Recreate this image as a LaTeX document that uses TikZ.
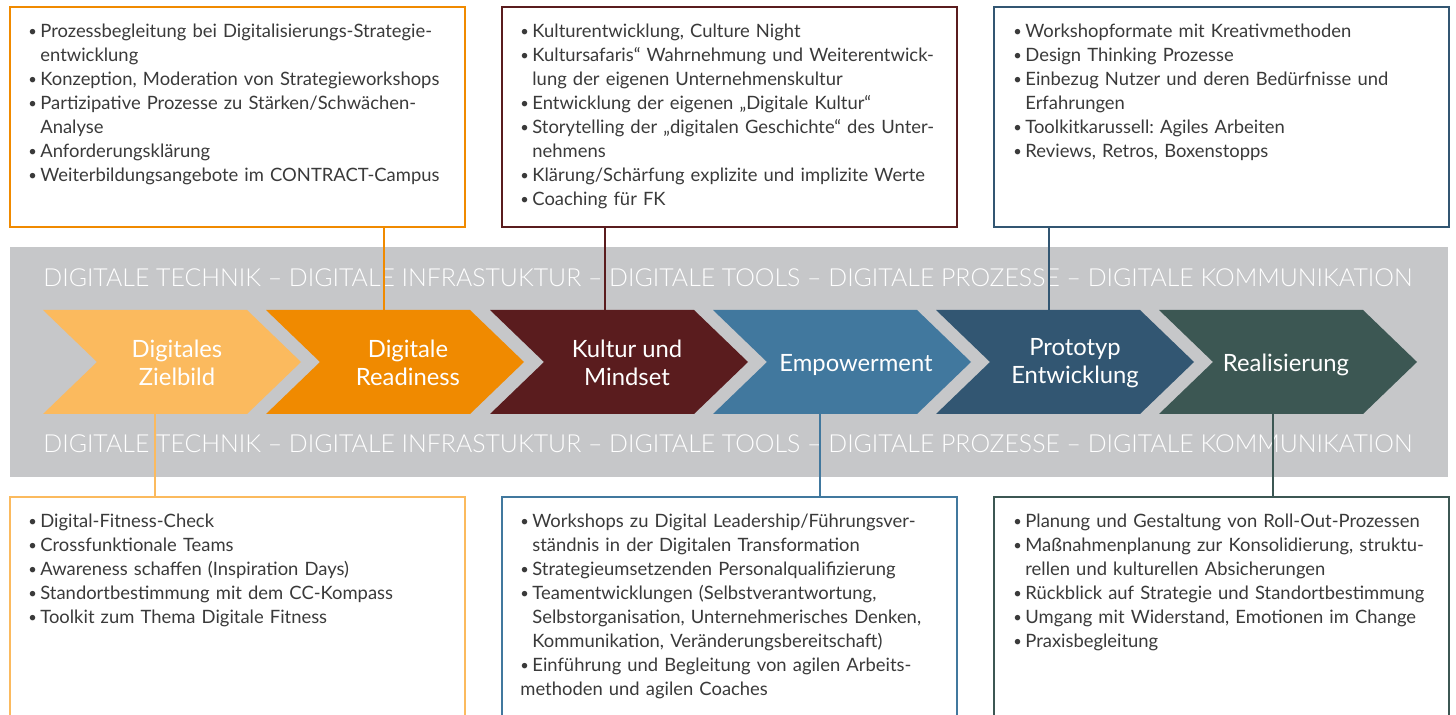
\documentclass[tikz,border=0pt]{standalone}
\usepackage{fontspec}
\setmainfont{Lato}
\newfontfamily\bandfont{Lato Light}
\usepackage{graphicx}
\frenchspacing
\definecolor{band}{HTML}{C6C7C9}
\definecolor{ca}{HTML}{FBBA5E}
\definecolor{cb}{HTML}{F08A00}
\definecolor{cc}{HTML}{5A1C1E}
\definecolor{cd}{HTML}{41789E}
\definecolor{ce}{HTML}{325672}
\definecolor{cf}{HTML}{3C5753}
\definecolor{txt}{HTML}{3A3A3A}
\newcommand{\bi}{\par\noindent\hangindent=6pt\hangafter=1\rule{0pt}{8pt}\makebox[6pt][l]{\raisebox{0.2pt}{\scalebox{0.8}{•}}}}
\tikzset{
  box/.style={draw, line width=0.75pt, fill=white, inner sep=0pt, outer sep=0pt, minimum width=227.5pt},
  topbox/.style={box, minimum height=110pt},
  botbox/.style={box, minimum height=121.5pt},
  list/.style={anchor=north west, inner sep=0pt, text width=220pt, font=\fontsize{9.2}{12}\selectfont\frenchspacing, text=txt},
  clabel/.style={align=center, text=white, inner sep=0pt, font=\fontsize{11.9}{14}\selectfont},
  bandtext/.style={anchor=base west, inner sep=0pt, text=white},
  conn/.style={line width=0.75pt}
}
\newcommand{\bandline}{\resizebox{684.5pt}{!}{\bandfont DIGITALE TECHNIK – DIGITALE INFRASTUKTUR – DIGITALE TOOLS – DIGITALE PROZESSE – DIGITALE KOMMUNIKATION}}
\begin{document}
\begin{tikzpicture}[x=0.5pt,y=-0.5pt]
\useasboundingbox (0,0) rectangle (1456,715);
\clip (0,0) rectangle (1456,715);
\fill[white] (0,0) rectangle (1456,715);
% band
\fill[band] (10,247) rectangle (1448,477);
\node[bandtext] (bt1) at (43,287) {\bandline};
\node[bandtext] (bt2) at (43,453) {\bandline};
% chevrons
\foreach \L/\c in {43/ca, 266/cb, 490/cc, 713/cd, 936/ce, 1159/cf}
  \fill[\c] (\L,310) -- ++(204,0) -- ++(54,52) -- ++(-54,52) -- ++(-204,0) -- ++(54,-52) -- cycle;
\node[clabel] (c1) at (177,363) {Digitales\\Zielbild};
\node[clabel] (c2) at (408,363) {Digitale\\Readiness};
\node[clabel] (c3) at (627,363) {Kultur und\\Mindset};
\node[clabel] (c4) at (856,365) {Empowerment};
\node[clabel] (c5) at (1075,363) {Prototyp\\Entwicklung};
\node[clabel] (c6) at (1286,365) {Realisierung};
% boxes
\node[topbox, draw=cb] (tb1) at (237.5,117) {};
\node[topbox, draw=cc] (tb2) at (729.5,117) {};
\node[topbox, draw=ce] (tb3) at (1221.5,117) {};
\node[botbox, draw=ca] (bb1) at (237.5,618.5) {};
\node[botbox, draw=cd] (bb2) at (729.5,618.5) {};
\node[botbox, draw=cf] (bb3) at (1221.5,618.5) {};
% connectors
\coordinate (k2) at (384,310);
\coordinate (k3) at (605,310);
\coordinate (k5) at (1049,310);
\coordinate (k1) at (155,414);
\coordinate (k4) at (820,414);
\coordinate (k6) at (1273,414);
\draw[conn, cb] (tb1.south -| k2) -- (k2);
\draw[conn, cc] (tb2.south -| k3) -- (k3);
\draw[conn, ce] (tb3.south -| k5) -- (k5);
\draw[conn, ca] (k1) -- (bb1.north -| k1);
\draw[conn, cd] (k4) -- (bb2.north -| k4);
\draw[conn, cf] (k6) -- (bb3.north -| k6);
% lists
\node[list] (l1) at (28,13) {%
\bi Prozessbegleitung bei Digitalisierungs-Strategie-\newline entwicklung
\bi Konzeption, Moderation von Strategieworkshops
\bi Partizipative Prozesse zu Stärken/Schwächen-\newline Analyse
\bi Anforderungsklärung
\bi Weiterbildungsangebote im CONTRACT-Campus};
\node[list] (l2) at (520,13) {%
\bi Kulturentwicklung, Culture Night
\bi Kultursafaris“ Wahrnehmung und Weiterentwick-\newline lung der eigenen Unternehmenskultur
\bi Entwicklung der eigenen „Digitale Kultur“
\bi Storytelling der „digitalen Geschichte“ des Unter-\newline nehmens
\bi Klärung/Schärfung explizite und implizite Werte
\bi Coaching für FK};
\node[list] (l3) at (1013,13) {%
\bi Workshopformate mit Kreativmethoden
\bi Design Thinking Prozesse
\bi Einbezug Nutzer und deren Bedürfnisse und\newline Erfahrungen
\bi Toolkitkarussell: Agiles Arbeiten
\bi Reviews, Retros, Boxenstopps};
\node[list] (l4) at (28,503) {%
\bi Digital-Fitness-Check
\bi Crossfunktionale Teams
\bi Awareness schaffen (Inspiration Days)
\bi Standortbestimmung mit dem CC-Kompass
\bi Toolkit zum Thema Digitale Fitness};
\node[list] (l5) at (520,503) {%
\bi Workshops zu Digital Leadership/Führungsver-\newline ständnis in der Digitalen Transformation
\bi Strategieumsetzenden Personalqualifizierung
\bi Teamentwicklungen (Selbstverantwortung,\newline Selbstorganisation, Unternehmerisches Denken,\newline Kommunikation, Veränderungsbereitschaft)
\bi Einführung und Begleitung von agilen Arbeits-\newline methoden und agilen Coaches};
\node[list] (l6) at (1013,503) {%
\bi Planung und Gestaltung von Roll-Out-Prozessen
\bi Maßnahmenplanung zur Konsolidierung, struktu-\newline rellen und kulturellen Absicherungen
\bi Rückblick auf Strategie und Standortbestimmung
\bi Umgang mit Widerstand, Emotionen im Change
\bi Praxisbegleitung};
\end{tikzpicture}
\end{document}
